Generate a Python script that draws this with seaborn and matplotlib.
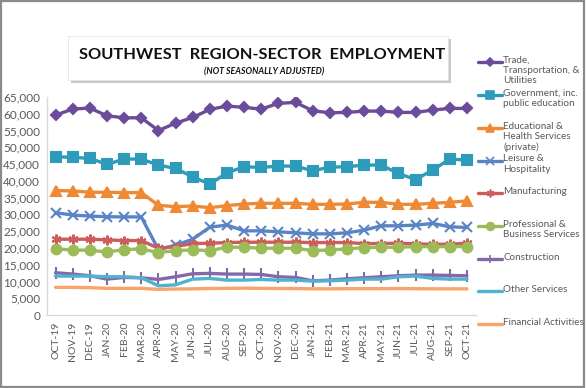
import numpy as np
import pandas as pd
import seaborn as sns
import matplotlib.pyplot as plt
from matplotlib.lines import Line2D
from matplotlib.patches import Rectangle

# months on the x axis
months = ['OCT-19', 'NOV-19', 'DEC-19', 'JAN-20', 'FEB-20', 'MAR-20', 'APR-20', 'MAY-20',
          'JUN-20', 'JUL-20', 'AUG-20', 'SEP-20', 'OCT-20', 'NOV-20', 'DEC-20', 'JAN-21',
          'FEB-21', 'MAR-21', 'APR-21', 'MAY-21', 'JUN-21', 'JUL-21', 'AUG-21', 'SEP-21', 'OCT-21']

# employment by sector
trade = [59600, 61400, 61700, 59400, 58800, 58800, 55000, 57200, 58900, 61300, 62300, 61900, 61400,
         63100, 63400, 60900, 60300, 60400, 60800, 60800, 60400, 60400, 61100, 61600, 61600]
government = [47200, 47000, 46700, 44900, 46500, 46500, 44700, 43700, 41200, 39000, 42400, 44200, 44000,
              44400, 44400, 43000, 44100, 44200, 44700, 44700, 42200, 40400, 43200, 46500, 46200]
education = [37100, 37000, 36600, 36600, 36500, 36500, 32700, 32300, 32500, 32000, 32600, 33100, 33300,
             33300, 33300, 33000, 33000, 33100, 33600, 33600, 33000, 33000, 33300, 33600, 34000]
leisure = [30500, 29800, 29500, 29300, 29250, 29250, 19500, 20800, 22600, 26200, 26800, 25100, 25100,
           24800, 24500, 24200, 24200, 24500, 25300, 26600, 26600, 26800, 27300, 26300, 26100]
manufacturing = [22600, 22600, 22600, 22400, 22200, 22200, 19900, 20400, 21300, 21400, 21600, 21700, 21700,
                 21700, 21700, 21600, 21600, 21600, 21300, 21300, 21400, 21200, 21100, 21100, 21400]
professional = [19700, 19400, 19300, 18800, 19500, 19700, 18600, 19200, 19400, 19200, 20200, 20200, 19900,
                19900, 19900, 19200, 19400, 19700, 20100, 20200, 20200, 20400, 20400, 20400, 20400]
construction = [12600, 12200, 11700, 10700, 11200, 11100, 10600, 11400, 12300, 12400, 12200, 12200, 12100,
                11400, 11200, 10200, 10400, 10800, 11100, 11400, 11700, 11900, 11900, 11800, 11700]
other = [11600, 11600, 11600, 11400, 11400, 11100, 8700, 9000, 10700, 10900, 10400, 10400, 10600,
         10400, 10400, 10100, 10200, 10400, 10700, 10700, 11400, 11600, 10900, 10700, 10700]
financial = [8250, 8250, 8150, 7950, 7950, 7950, 7650, 7750, 7800, 7900, 7950, 8000, 7950,
             7900, 7900, 7800, 7800, 7850, 7850, 7850, 7900, 7850, 7800, 7800, 7800]

labels = ['Trade,\nTransportation, &\nUtilities', 'Government, inc.\npublic education',
          'Educational &\nHealth Services\n(private)', 'Leisure &\nHospitality', 'Manufacturing',
          'Professional &\nBusiness Services', 'Construction', 'Other Services', 'Financial Activities']
series = [trade, government, education, leisure, manufacturing, professional, construction, other, financial]

colors = ['#6B4C9A', '#2E9BBA', '#EE8A35', '#5B84C4', '#CD5C5A', '#9BBB59', '#8468A8', '#4FB3CF', '#F9A46B']
markers = ['D', 's', '^', 'x', (6, 2, 0), 'o', '|', None, None]
msizes = [5, 7, 6.5, 7, 7, 7, 8, 0, 0]

sns.set_style('white')
plt.rcParams['font.family'] = ['Lato', 'DejaVu Sans']

fig = plt.figure(figsize=(5.86, 3.88), dpi=100)
W, H = 586, 388
ax = fig.add_axes([47 / W, 1 - 315 / H, (475.5 - 47) / W, (315 - 97) / H])

x = np.arange(len(months))
for vals, c, m, ms in zip(series, colors, markers, msizes):
    df = pd.DataFrame({'month': x, 'jobs': vals})
    sns.lineplot(data=df, x='month', y='jobs', ax=ax, color=c, lw=2.4,
                 marker=m, markersize=ms, mfc=c, mec=c, mew=1.5)

ax.set_xlim(-0.5, len(months) - 0.5)
ax.set_ylim(0, 65000)
ax.set_yticks(np.arange(0, 65001, 5000))
ax.set_yticklabels([f'{v:,}' for v in range(0, 65001, 5000)])
ax.set_xticks(x)
ax.set_xticklabels(months, rotation=90)
ax.set_xticks(np.arange(-0.5, len(months), 1), minor=True)
ax.tick_params(axis='x', which='major', length=0, pad=5, labelsize=7.5, labelcolor='#595959')
ax.tick_params(axis='x', which='minor', length=5, color='#d0d0d0', direction='out')
ax.tick_params(axis='y', length=0, labelsize=8.5, labelcolor='#595959', pad=5)
ax.set_xlabel('')
ax.set_ylabel('')
for s in ['top', 'right']:
    ax.spines[s].set_visible(False)
for s in ['left', 'bottom']:
    ax.spines[s].set_color('#d9d9d9')
    ax.spines[s].set_linewidth(1)

# legend drawn by hand so multi-line labels hang from the handle like in Excel
leg_y = [62, 95, 128, 160.5, 193, 226, 259, 291, 324]
for lab, c, m, ms, yy in zip(labels, colors, markers, msizes, leg_y):
    yf = 1 - yy / H
    fig.add_artist(Line2D([478 / W, 490 / W, 502 / W], [yf, yf, yf], transform=fig.transFigure,
                          color=c, lw=2.4, marker=m, markersize=ms * 0.8, mfc=c, mec=c, mew=1.2,
                          markevery=[1]))
    fig.text(503 / W, 1 - (yy - 6) / H, lab, fontsize=7.1, color='#595959', va='top', ha='left',
             linespacing=1.15)

# title box with a drop shadow
fig.add_artist(Rectangle((71 / W, 1 - 83 / H), 380 / W, 44 / H, transform=fig.transFigure,
                         facecolor='#c8c8c8', edgecolor='none'))
fig.add_artist(Rectangle((68 / W, 1 - 80 / H), 380 / W, 44 / H, transform=fig.transFigure,
                         facecolor='white', edgecolor='#e0e0e0', lw=0.5))
fig.text(262 / W, 1 - 55 / H, 'SOUTHWEST  REGION-SECTOR  EMPLOYMENT', fontsize=11.8,
         weight='bold', ha='center', va='center', color='#111111')
fig.text(264 / W, 1 - 72 / H, '(NOT SEASONALLY ADJUSTED)', fontsize=6.3, weight='bold',
         style='italic', ha='center', va='center', color='#111111')

# outer border of the picture
fig.add_artist(Rectangle((0.002, 0.003), 0.995, 0.994, transform=fig.transFigure,
                         facecolor='none', edgecolor='#8a8a8a', lw=1.6))

fig.savefig('out.png', dpi=100)
